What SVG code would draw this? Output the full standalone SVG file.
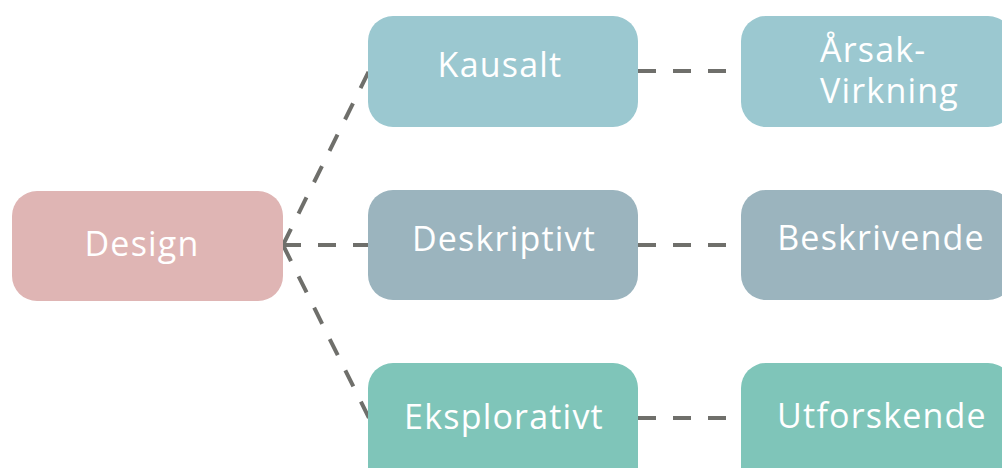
<svg xmlns="http://www.w3.org/2000/svg" width="1002" height="468" viewBox="0 0 1002 468">
<style>
.lbl{font-family:"Open Sans","Liberation Sans",sans-serif;font-size:34px;letter-spacing:1.2px;fill:#ffffff;text-anchor:middle}
.conn{stroke:#6f6f6b;stroke-width:4;stroke-dasharray:18 17;fill:none}
</style>
<rect width="1002" height="468" fill="#ffffff"/>
<g id="connectors">
<line class="conn" x1="283" y1="245" x2="369" y2="71"/>
<line class="conn" x1="283" y1="245" x2="369" y2="245"/>
<line class="conn" x1="283" y1="245" x2="369" y2="418"/>
<line class="conn" x1="638" y1="71" x2="741" y2="71"/>
<line class="conn" x1="638" y1="245" x2="741" y2="245"/>
<line class="conn" x1="638" y1="418" x2="741" y2="418"/>
</g>
<g id="design"><rect x="12" y="191" width="271" height="110" rx="25" fill="#dfb5b4"/><text class="lbl" x="142" y="256">Design</text></g>
<g id="kausalt"><rect x="368" y="16" width="270" height="111" rx="25" fill="#9bc8d0"/><text class="lbl" x="500" y="77">Kausalt</text></g>
<g id="deskriptivt"><rect x="368" y="190" width="270" height="110" rx="25" fill="#9bb4be"/><text class="lbl" x="504" y="251">Deskriptivt</text></g>
<g id="eksplorativt"><rect x="368" y="363" width="270" height="130" rx="25" fill="#7fc5b9"/><text class="lbl" x="504" y="429">Eksplorativt</text></g>
<g id="arsak"><rect x="741" y="16" width="272" height="111" rx="25" fill="#9bc8d0"/><text class="lbl" style="text-anchor:start" x="820" y="62">Årsak-</text><text class="lbl" style="text-anchor:start" x="820" y="103">Virkning</text></g>
<g id="beskrivende"><rect x="741" y="190" width="272" height="110" rx="25" fill="#9bb4be"/><text class="lbl" x="881" y="250">Beskrivende</text></g>
<g id="utforskende"><rect x="741" y="363" width="272" height="130" rx="25" fill="#7fc5b9"/><text class="lbl" x="882" y="428">Utforskende</text></g>
</svg>
